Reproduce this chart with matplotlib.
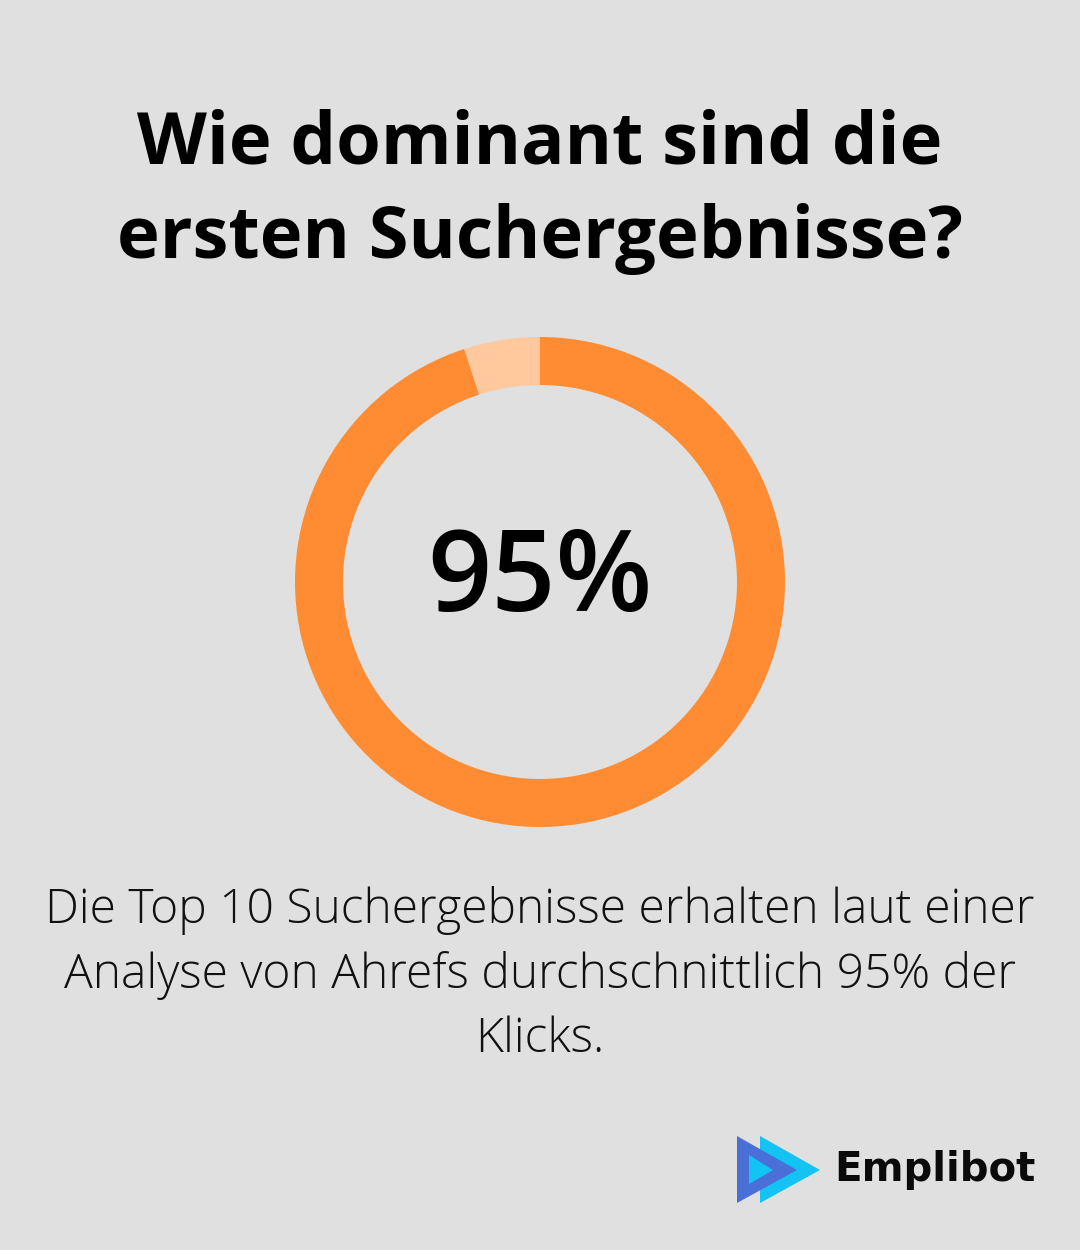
#donut infographic: share of clicks on the top 10 results
import matplotlib
matplotlib.use("Agg")
import matplotlib.pyplot as plt
from matplotlib.patches import Polygon

#data
shares = [95, 5]
share_labels = ["Top 10", "Rest"]
share_colors = ["#FF8C33", "#FFC89D"]
center_label = "95%"
title = "Wie dominant sind die\nersten Suchergebnisse?"
caption = ("Die Top 10 Suchergebnisse erhalten laut einer\n"
           "Analyse von Ahrefs durchschnittlich 95% der\n"
           "Klicks.")
brand = "Emplibot"

bg = "#DFE0DF"
W, H = 1080, 1250

fig = plt.figure(figsize=(W / 100, H / 100), dpi=100, facecolor=bg)

#full-figure axes in pixel coords for texts and the logo
base = fig.add_axes([0, 0, 1, 1])
base.set_xlim(0, W)
base.set_ylim(H, 0)
base.axis("off")

base.text(540, 192, title, ha="center", va="center", fontsize=52,
          fontweight="bold", family="Open Sans", linespacing=1.4)

base.text(540, 975, caption, ha="center", va="center", fontsize=34.6,
          fontweight="light", family="Open Sans", linespacing=1.43,
          color="#111111")

#donut
r_out, cx, cy = 245, 540, 582
ax = fig.add_axes([(cx - r_out) / W, (H - cy - r_out) / H, 2 * r_out / W, 2 * r_out / H])
ax.pie(shares, labels=None, colors=share_colors, startangle=90, counterclock=False,
       radius=1, wedgeprops=dict(width=48 / r_out, linewidth=0))
ax.set_xlim(-1, 1)
ax.set_ylim(-1, 1)
ax.set_aspect("equal")
ax.axis("off")
ax.text(0, 0, center_label, ha="center", va="center", fontsize=81,
        fontweight="semibold", family="Open Sans")

#logo: cyan triangle behind, dark triangle in front, small cyan inside
base.add_patch(Polygon([[760, 1136], [760, 1203], [820, 1170]], closed=True,
                       color="#12C3F4", lw=0))
base.add_patch(Polygon([[737, 1136], [737, 1203], [797, 1170]], closed=True,
                       color="#4A70D8", lw=0))
base.add_patch(Polygon([[749, 1155], [749, 1184], [773, 1170]], closed=True,
                       color="#12C3F4", lw=0))
base.text(834, 1170, brand, ha="left", va="center", fontsize=29,
          fontweight="bold", family="DejaVu Sans", color="#0A0A0A")

fig.savefig("out.png", dpi=100, facecolor=bg)
